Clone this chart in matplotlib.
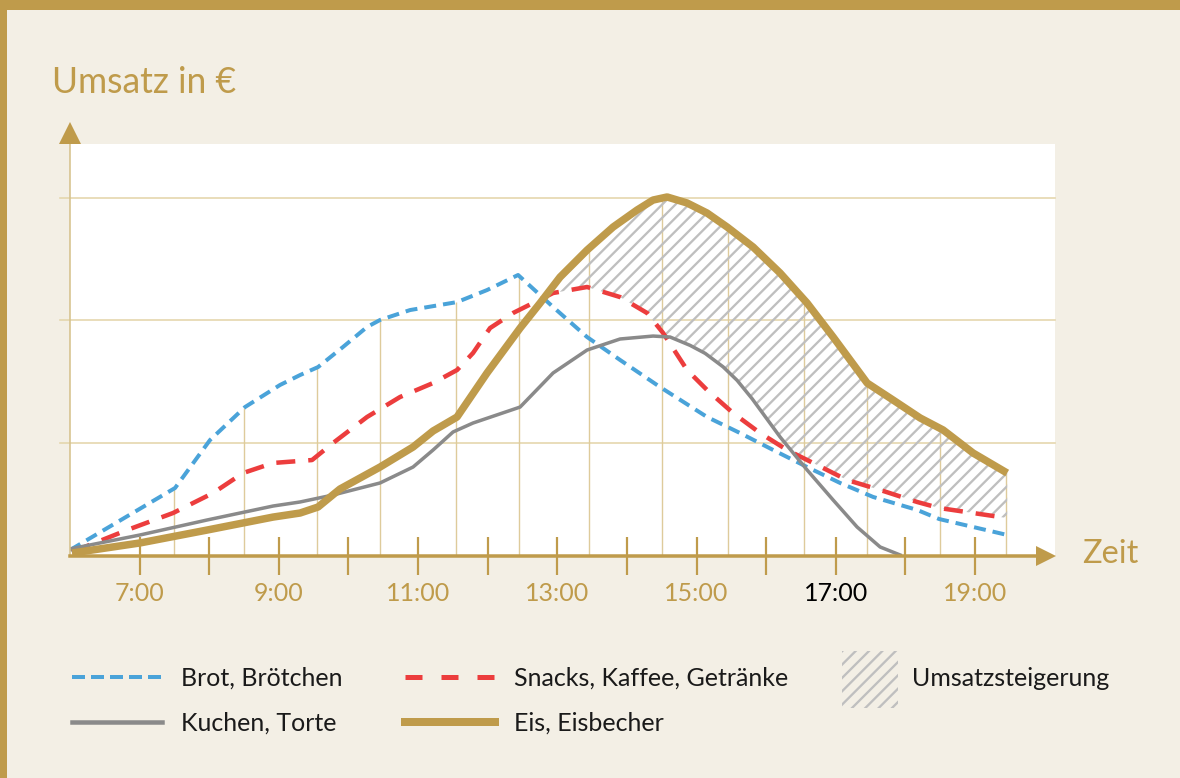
import numpy as np
import matplotlib.pyplot as plt
from matplotlib.lines import Line2D
from matplotlib.patches import Rectangle
from matplotlib.transforms import offset_copy

# Uhrzeit (Stunden) und Umsatz (relative Einheiten)
brot_x = [6.0, 7.509, 8.011, 8.514, 9.017, 9.305, 9.563, 9.922, 10.267, 10.454, 10.885, 11.56, 11.991, 12.437,
          12.94, 13.428, 13.902, 14.477, 15.152, 15.626, 16.101, 16.589, 17.063, 17.537, 18.17, 18.486, 19.463]
brot_y = [12.6, 63.2, 102.3, 129.2, 147.2, 155.3, 161.8, 178.2, 194.5, 200.2, 208.3, 214.8, 224.6, 236.9,
          210.8, 186.3, 167.6, 145.5, 121.1, 108.0, 94.2, 80.3, 67.3, 55.9, 45.3, 37.9, 24.9]

snacks_x = [6.029, 6.819, 7.48, 8.055, 8.486, 8.917, 9.477, 9.779, 10.267, 10.741, 11.216, 11.56, 11.79, 12.034,
            12.365, 12.94, 13.428, 13.902, 14.29, 14.52, 14.865, 15.152, 15.526, 15.914, 16.302, 16.675, 17.164,
            17.638, 18.17, 18.486, 19.463]
snacks_y = [11.0, 28.9, 42.8, 59.1, 75.4, 83.6, 86.0, 99.9, 121.1, 137.4, 148.8, 159.4, 173.3, 193.6,
            205.9, 222.2, 227.1, 218.9, 205.9, 189.6, 159.4, 143.1, 124.3, 108.0, 94.2, 83.6, 69.7,
            61.6, 51.8, 46.9, 38.7]

kuchen_x = [6.0, 7.006, 7.968, 8.917, 9.305, 9.779, 10.454, 10.928, 11.216, 11.503, 11.79, 12.466, 12.94, 13.428,
            13.902, 14.376, 14.621, 14.908, 15.124, 15.382, 15.583, 15.799, 16.201, 16.589, 16.963, 17.307,
            17.638, 17.925]
kuchen_y = [13.5, 24.9, 37.1, 48.5, 51.8, 57.5, 67.3, 80.3, 94.2, 108.9, 116.2, 129.2, 157.0, 175.7,
            184.7, 187.1, 186.3, 179.5, 173.0, 162.0, 151.0, 136.0, 104.8, 77.9, 53.4, 31.4,
            15.1, 8.6]

eis_x = [6.029, 7.006, 7.968, 8.917, 9.305, 9.563, 9.879, 10.454, 10.928, 11.216, 11.56, 11.991, 12.466, 12.753,
         13.04, 13.428, 13.802, 14.147, 14.376, 14.578, 14.865, 15.152, 15.44, 15.813, 16.201, 16.589, 16.963,
         17.451, 17.825, 18.213, 18.543, 18.974, 19.463]
eis_y = [10.2, 18.4, 28.9, 39.5, 42.8, 47.7, 62.4, 80.3, 96.6, 109.7, 121.1, 157.0, 193.6, 214.0,
         235.2, 257.2, 276.0, 289.9, 298.0, 300.5, 295.6, 287.4, 276.0, 259.7, 238.5, 214.0, 186.3,
         148.8, 134.9, 120.3, 110.5, 91.7, 75.4]

hilfslinien_x = [7.5, 8.5, 9.55, 10.45, 11.55, 12.45, 13.45, 14.5, 15.45, 16.55, 17.45, 18.5, 19.45]
raster_y = [100, 200, 300]
stunden = list(range(7, 20))
stunden_labels = [f'{h}:00' if h % 2 else '' for h in stunden]

labels = ['Brot, Brötchen', 'Kuchen, Torte', 'Snacks, Kaffee, Getränke', 'Eis, Eisbecher', 'Umsatzsteigerung']

DPI = 120
W, H = 1180, 778


def pt(p):
    return p * 72 / DPI


def fx(x):
    return x / W


def fy(y):
    return 1 - y / H


BG = '#f3efe5'
GOLD = '#bf9b4b'
GRID = '#e4d5ab'
VLINE = '#decb9b'
BLUE = '#4aa3d9'
RED = '#ec3d3d'
GRAY = '#8a8a8a'
HATCH = '#bfbfbf'

plt.rcParams['font.family'] = ['Lato', 'DejaVu Sans']
plt.rcParams['hatch.linewidth'] = pt(2.3)

fig = plt.figure(figsize=(W / DPI, H / DPI), dpi=DPI, facecolor=BG)
ax = fig.add_axes([fx(70), fy(555.7), (1055 - 70) / W, (555.7 - 144) / H])
ax.set_facecolor('white')
for s in ax.spines.values():
    s.set_visible(False)
ax.set_xlim(6.0, 20.15)
ax.set_ylim(8, 343.7)
ax.set_yticks([])

# raster
for v in raster_y:
    ax.axhline(v, xmin=-10 / 985, xmax=1, color=GRID, lw=pt(1.6), clip_on=False, zorder=1)

# senkrechte Hilfslinien bis zur obersten Kurve
alle = [(brot_x, brot_y), (snacks_x, snacks_y), (kuchen_x, kuchen_y), (eis_x, eis_y)]
tops = np.max([np.interp(hilfslinien_x, sx, sy) for sx, sy in alle], axis=0)
ax.vlines(hilfslinien_x, 8, tops, color=VLINE, lw=pt(1.4), zorder=1)

# schraffierte Fläche zwischen Eis und den anderen Produkten
xx = np.linspace(eis_x[0], eis_x[-1], 2000)
eis_i = np.interp(xx, eis_x, eis_y)
unten = np.max([np.interp(xx, sx, sy) for sx, sy in alle[:3]], axis=0)
ax.fill_between(xx, eis_i, unten, where=eis_i > unten, interpolate=True,
                facecolor='none', edgecolor=HATCH, hatch='///', linewidth=0, zorder=2)

lw_b, lw_r, lw_g, lw_e = 4, 4.5, 3.5, 7.5
ax.plot(brot_x, brot_y, color=BLUE, lw=pt(lw_b), ls=(0, (12 / lw_b, 7 / lw_b)), zorder=3)
ax.plot(snacks_x, snacks_y, color=RED, lw=pt(lw_r), ls=(0, (19 / lw_r, 13 / lw_r)), zorder=3)
ax.plot(kuchen_x, kuchen_y, color=GRAY, lw=pt(lw_g), zorder=4, solid_joinstyle='round')
ax.plot(eis_x, eis_y, color=GOLD, lw=pt(lw_e), zorder=5, solid_joinstyle='round', solid_capstyle='butt')

# Achsen mit Pfeilen
ax.plot([0, 0], [0, 1], transform=ax.transAxes, color='#d6c28d', lw=pt(1.6), clip_on=False, zorder=6)
ax.plot([0], [1], transform=offset_copy(ax.transAxes, fig=fig, x=0, y=pt(11), units='points'),
        marker='^', ms=pt(22), color=GOLD, mew=0, clip_on=False, zorder=7)
ax.plot([0, 0.985], [0, 0], transform=ax.transAxes, color=GOLD, lw=pt(3.5), clip_on=False, zorder=6)
ax.plot([1], [0], transform=offset_copy(ax.transAxes, fig=fig, x=pt(-9.5), y=0, units='points'),
        marker='>', ms=pt(20), color=GOLD, mew=0, clip_on=False, zorder=7)

ax.set_xticks(stunden, stunden_labels)
ax.tick_params(axis='x', direction='inout', length=pt(38), width=pt(2.2), color=GOLD,
               labelsize=pt(25), labelcolor=GOLD, pad=pt(7))
ax.get_xticklabels()[stunden.index(17)].set_color('black')

fig.text(fx(52), fy(93), 'Umsatz in €', size=pt(35.5), color=GOLD, va='baseline')
fig.text(fx(1082), fy(563), 'Zeit', size=pt(32.5), color=GOLD, va='baseline')

# Legende
handles = [
    Line2D([fx(72), fx(162)], [fy(677)] * 2, color=BLUE, lw=pt(lw_b), ls=(0, (13 / lw_b, 6 / lw_b))),
    Line2D([fx(72), fx(162)], [fy(722)] * 2, color=GRAY, lw=pt(4.5)),
    Line2D([fx(405), fx(495)], [fy(677)] * 2, color=RED, lw=pt(5), ls=(0, (17 / 5, 19 / 5))),
    Line2D([fx(405), fx(495)], [fy(722)] * 2, color=GOLD, lw=pt(8)),
]
for h in handles:
    h.set_transform(fig.transFigure)
    fig.add_artist(h)
fig.add_artist(Rectangle((fx(842), fy(708)), 56 / W, 57 / H, transform=fig.transFigure,
                         facecolor='none', edgecolor=HATCH, hatch='///', linewidth=0))
for (x, y), lab in zip([(181, 686), (181, 731), (514, 686), (514, 731), (912, 686)], labels):
    fig.text(fx(x), fy(y), lab, size=pt(25), color='#1a1a1a', va='baseline')

# goldener Rahmen oben und links
fig.add_artist(Rectangle((0, fy(10)), 1, 10 / H, transform=fig.transFigure, color=GOLD, lw=0))
fig.add_artist(Rectangle((0, 0), 7 / W, 1, transform=fig.transFigure, color=GOLD, lw=0))

fig.savefig('out.png', dpi=DPI, facecolor=BG)
